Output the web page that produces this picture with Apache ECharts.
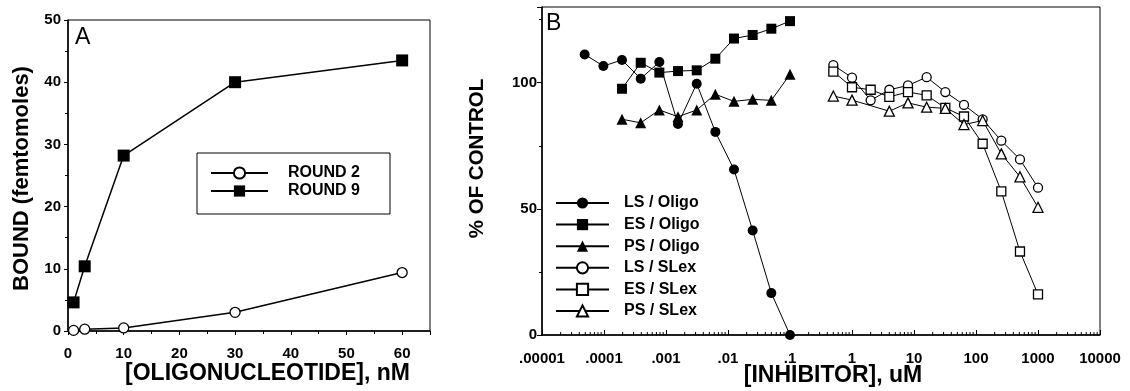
<!DOCTYPE html>
<html>
<head>
<meta charset="utf-8">
<script src="https://cdn.jsdelivr.net/npm/echarts/dist/echarts.min.js"></script>
<style>
html,body{margin:0;padding:0;background:#fff;}
#chart{width:1130px;height:391px;}
</style>
</head>
<body>
<div id="chart"></div>
<script>
// ---------- Panel A data ----------
const oligoConc = [1, 3, 10, 30, 60];
const round2 = [0.1, 0.3, 0.5, 3.0, 9.4];
const round9 = [4.6, 10.4, 28.2, 40.0, 43.5];

// ---------- Panel B data ----------
const oligoInhib = [0.0000488, 0.0000977, 0.000195, 0.000391, 0.000781, 0.00156, 0.00313, 0.00625, 0.0125, 0.025, 0.05, 0.1];
const lsOligo = [111.2, 106.6, 109.0, 101.6, 108.2, 83.6, 99.6, 80.5, 65.6, 41.4, 16.6, 0];
const esOligoX = [0.000195, 0.000391, 0.000781, 0.00156, 0.00313, 0.00625, 0.0125, 0.025, 0.05, 0.1];
const esOligo = [97.6, 107.9, 104.0, 104.6, 104.9, 109.5, 117.5, 118.9, 121.4, 124.4];
const psOligoX = [0.000195, 0.000391, 0.000781, 0.00156, 0.00313, 0.00625, 0.0125, 0.025, 0.05, 0.1];
const psOligo = [85.5, 84.1, 89.2, 86.5, 89.2, 95.4, 92.6, 93.4, 93.0, 103.3];
const slexX = [0.5, 1, 2, 4, 8, 16, 32, 64, 128, 256, 512, 1000];
const lsSlex = [107.0, 102.0, 93.0, 97.2, 98.9, 102.2, 96.3, 91.2, 85.5, 77.0, 69.6, 58.4];
const esSlex = [104.4, 98.2, 97.2, 94.4, 96.3, 95.0, 90.0, 86.6, 75.8, 56.9, 33.1, 16.1];
const psSlexX = [0.5, 1, 4, 8, 16, 32, 64, 128, 256, 512, 1000];
const psSlex = [94.7, 93.1, 88.7, 92.0, 90.3, 89.8, 83.4, 85.0, 71.8, 62.7, 50.6];

// ---------- Tick labels ----------
const xTickValuesB = [0.00001, 0.0001, 0.001, 0.01, 0.1, 1, 10, 100, 1000, 10000];
const xTickLabelsB = ['.00001', '.0001', '.001', '.01', '.1', '1', '10', '100', '1000', '10000'];
// log-axis minor tick positions (2..9 within each decade)
const minorTicksB = [];
xTickValuesB.slice(0, -1).forEach(d => { for (let m = 2; m <= 9; m++) minorTicksB.push(+(d * m).toPrecision(3)); });

const zip = (xs, ys) => xs.map((x, i) => [x, ys[i]]);
const FONT = '"Liberation Sans", Arial, Helvetica, sans-serif';
const K = '#000';

const chart = echarts.init(document.getElementById('chart'), null, {renderer: 'canvas'});

function lineSeries(name, xs, ys, grid, symbol, size, filled, lw) {
  return {
    name: name, type: 'line', xAxisIndex: grid, yAxisIndex: grid,
    data: zip(xs, ys), symbol: symbol, symbolSize: size, showAllSymbol: true,
    lineStyle: {color: K, width: lw},
    itemStyle: filled ? {color: K, borderColor: K, borderWidth: 0} : {color: '#fff', borderColor: K, borderWidth: 1.3},
    emphasis: {disabled: true}, animation: false, z: 3
  };
}

const tickLabel = {color: K, fontFamily: FONT, fontWeight: 'bold', fontSize: 15};

const option = {
  animation: false,
  backgroundColor: '#fff',
  title: [
    {text: 'A', left: 75, top: 26, padding: 0, textStyle: {fontFamily: FONT, fontWeight: 'normal', fontSize: 23, color: K}},
    {text: 'B', left: 546, top: 12, padding: 0, textStyle: {fontFamily: FONT, fontWeight: 'normal', fontSize: 23, color: K}}
  ],
  grid: [
    {left: 68, top: 20, right: 700, bottom: 60, show: true, borderColor: K, borderWidth: 1, containLabel: false, outerBoundsMode: 'none'},
    {left: 542, top: 7, right: 30, bottom: 56, show: true, borderColor: K, borderWidth: 1, containLabel: false, outerBoundsMode: 'none'}
  ],
  xAxis: [
    {
      type: 'value', gridIndex: 0, min: 0, max: 65, interval: 10,
      name: '[OLIGONUCLEOTIDE], nM', nameLocation: 'middle', nameGap: 31, nameMoveOverlap: false,
      nameTextStyle: {color: K, fontFamily: FONT, fontWeight: 'bold', fontSize: 23, padding: [0, 0, 0, 37]},
      axisLine: {show: true, lineStyle: {color: K, width: 1.5}},
      axisTick: {show: true, inside: false, length: 4, lineStyle: {color: K}},
      minorTick: {show: true, splitNumber: 2, length: 3, lineStyle: {color: K}},
      axisLabel: Object.assign({margin: 15, showMaxLabel: false}, tickLabel),
      splitLine: {show: false}
    },
    {
      type: 'log', gridIndex: 1, logBase: 10, min: 0.00001, max: 10000, splitNumber: 9,
      name: '[INHIBITOR], uM', nameLocation: 'middle', nameGap: 29, nameMoveOverlap: false,
      nameTextStyle: {color: K, fontFamily: FONT, fontWeight: 'bold', fontSize: 23, padding: [0, 0, 0, 24]},
      axisLine: {show: true, lineStyle: {color: K, width: 1.5}},
      axisTick: {show: true, inside: true, length: 5, lineStyle: {color: K}},
      axisLabel: Object.assign({
        margin: 16,
        formatter: function (v) {
          const k = Math.round(Math.log10(v));
          const i = xTickValuesB.findIndex(t => Math.round(Math.log10(t)) === k);
          return i >= 0 ? xTickLabelsB[i] : '';
        }
      }, tickLabel),
      splitLine: {show: false}
    }
  ],
  yAxis: [
    {
      type: 'value', gridIndex: 0, min: 0, max: 50, interval: 10,
      name: 'BOUND (femtomoles)', nameLocation: 'middle', nameGap: 35, nameMoveOverlap: false,
      nameTextStyle: {color: K, fontFamily: FONT, fontWeight: 'bold', fontSize: 22, padding: [0, 6, 0, 0]},
      axisLine: {show: true, lineStyle: {color: K, width: 1.5}},
      axisTick: {show: true, inside: false, length: 4, lineStyle: {color: K}},
      minorTick: {show: true, splitNumber: 2, length: 3, lineStyle: {color: K}},
      axisLabel: Object.assign({margin: 7}, tickLabel),
      splitLine: {show: false}
    },
    {
      type: 'value', gridIndex: 1, min: 0, max: 130, interval: 50,
      name: '% OF CONTROL', nameLocation: 'middle', nameGap: 54, nameMoveOverlap: false,
      nameTextStyle: {color: K, fontFamily: FONT, fontWeight: 'bold', fontSize: 20.5, padding: [0, 0, 0, 25]},
      axisLine: {show: true, lineStyle: {color: K, width: 1.5}},
      axisTick: {show: true, inside: false, length: 5, lineStyle: {color: K}},
      minorTick: {show: true, splitNumber: 2, length: 3, lineStyle: {color: K}},
      axisLabel: Object.assign({margin: 5, showMaxLabel: false}, tickLabel),
      splitLine: {show: false}
    }
  ],
  legend: [
    {
      data: ['ROUND 2', 'ROUND 9'], orient: 'vertical', left: 197, top: 153,
      padding: [12, 30, 15, 13], itemGap: 2, itemWidth: 57, itemHeight: 14,
      borderColor: K, borderWidth: 1, selectedMode: false,
      textStyle: {color: K, fontFamily: FONT, fontWeight: 'bold', fontSize: 16, padding: [0, 0, 0, 15]}
    },
    {
      data: ['LS / Oligo', 'ES / Oligo', 'PS / Oligo', 'LS / SLex', 'ES / SLex', 'PS / SLex'],
      orient: 'vertical', left: 555, top: 195, padding: 0, itemGap: 5.6, itemWidth: 53, itemHeight: 14,
      selectedMode: false,
      textStyle: {color: K, fontFamily: FONT, fontWeight: 'bold', fontSize: 16, padding: [0, 0, 0, 10]}
    }
  ],
  series: [
    lineSeries('ROUND 2', oligoConc, round2, 0, 'circle', 10, false, 1.5),
    lineSeries('ROUND 9', oligoConc, round9, 0, 'rect', 12, true, 1.5),
    lineSeries('LS / Oligo', oligoInhib, lsOligo, 1, 'circle', 10, true, 1),
    lineSeries('ES / Oligo', esOligoX, esOligo, 1, 'rect', 10, true, 1),
    lineSeries('PS / Oligo', psOligoX, psOligo, 1, 'triangle', 11, true, 1),
    lineSeries('LS / SLex', slexX, lsSlex, 1, 'circle', 9, false, 1),
    lineSeries('ES / SLex', slexX, esSlex, 1, 'rect', 9, false, 1),
    lineSeries('PS / SLex', psSlexX, psSlex, 1, 'triangle', 10, false, 1),
    {
      name: 'minorTicksB', type: 'custom', xAxisIndex: 1, yAxisIndex: 1, silent: true, clip: false, z: 1,
      data: minorTicksB.map(v => [v, 0]),
      renderItem: function (params, api) {
        const p = api.coord([api.value(0), 0]);
        return {type: 'line', shape: {x1: p[0], y1: p[1], x2: p[0], y2: p[1] - 3}, style: {stroke: K, lineWidth: 1}};
      }
    }
  ]
};
chart.setOption(option);
</script>
</body>
</html>
